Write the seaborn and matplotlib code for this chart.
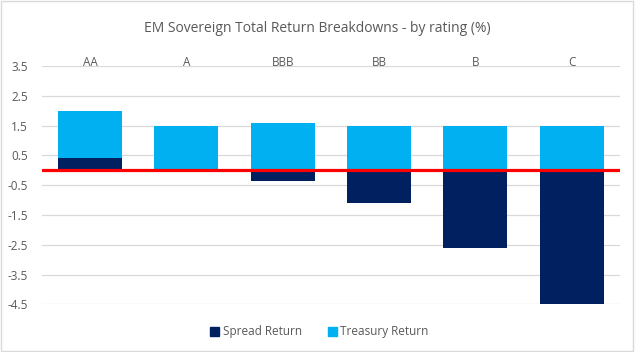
import matplotlib
matplotlib.use("Agg")
import matplotlib.pyplot as plt
import matplotlib.patches as mpatches
import numpy as np
import pandas as pd
import seaborn as sns

# Données
ratings = ["AA", "A", "BBB", "BB", "B", "C"]
spread_return = [0.4, 0.0, -0.35, -1.1, -2.6, -4.5]
treasury_return = [1.6, 1.5, 1.6, 1.5, 1.5, 1.5]
y_ticks = [-4.5, -3.5, -2.5, -1.5, -0.5, 0.5, 1.5, 2.5, 3.5]

navy = "#002060"
light_blue = "#00B0F0"
grey_text = "#595959"

sns.set_theme(style="white")
plt.rcParams["font.family"] = ["Open Sans", "DejaVu Sans"]

# Empilement façon Excel : la partie positive du spread sous le Treasury
df = pd.DataFrame({"rating": ratings,
                   "spread": spread_return,
                   "treasury": treasury_return})
df["top"] = df["treasury"] + df["spread"].clip(lower=0)

fig = plt.figure(figsize=(6.35, 3.52), dpi=100)
ax = fig.add_axes([0.066, 0.135, 0.91, 0.6775])

sns.barplot(data=df, x="rating", y="top", color=light_blue, width=0.665,
            saturation=1, linewidth=0, ax=ax, zorder=2)
sns.barplot(data=df, x="rating", y="spread", color=navy, width=0.665,
            saturation=1, linewidth=0, ax=ax, zorder=3)

ax.axhline(0, color="#FF0000", lw=2.3, zorder=4)

ax.set_ylim(-4.5, 3.5)
ax.set_xlim(-0.5, 5.5)
ax.set_yticks(y_ticks)
ax.set_yticklabels([f"{v:.1f}" for v in y_ticks])
ax.yaxis.grid(True, color="#D9D9D9", lw=0.9, zorder=0)
ax.set_axisbelow(True)
ax.xaxis.tick_top()
ax.tick_params(axis="x", length=0, pad=-2, labelsize=8.5, labelcolor=grey_text)
ax.tick_params(axis="y", length=0, pad=10, labelsize=8.5, labelcolor=grey_text)
ax.set_xlabel("")
ax.set_ylabel("")
for s in ax.spines.values():
    s.set_visible(False)

fig.suptitle("EM Sovereign Total Return Breakdowns - by rating (%)",
             y=0.94, fontsize=10, color=grey_text)

handles = [mpatches.Patch(color=navy, label="Spread Return"),
           mpatches.Patch(color=light_blue, label="Treasury Return")]
fig.legend(handles=handles, loc="center", bbox_to_anchor=(0.503, 0.057),
           ncol=2, frameon=False, fontsize=8.5, labelcolor=grey_text,
           handlelength=0.75, handleheight=0.75, handletextpad=0.3,
           columnspacing=2.2)

# Cadre gris du graphique
fig.patches.append(mpatches.Rectangle((0.002, 0.003), 0.995, 0.994,
                                      transform=fig.transFigure, fill=False,
                                      edgecolor="#D9D9D9", lw=1))

fig.savefig("out.png", dpi=100)
